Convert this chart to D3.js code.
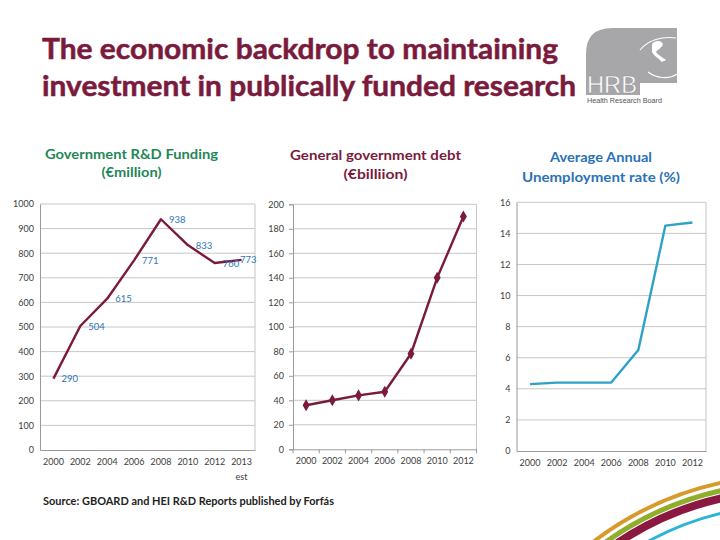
<!DOCTYPE html>
<html>
<head>
<meta charset="utf-8">
<script src="https://cdn.jsdelivr.net/npm/d3@7/dist/d3.min.js"></script>
<style>
html,body{margin:0;padding:0;background:#fff;}
svg{display:block;font-family:Lato,"Open Sans",sans-serif;}
</style>
</head>
<body>
<svg id="c" width="720" height="540"></svg>
<script>
// ---- data ----
const rdYears = ["2000","2002","2004","2006","2008","2010","2012","2013"];
const rdValues = [290,504,615,771,938,833,760,773];
const rdTicks = [0,100,200,300,400,500,600,700,800,900,1000];

const debtYears = ["2000","2002","2004","2006","2008","2010","2012"];
const debtValues = [36,40,44,47,78,140,190];
const debtTicks = [0,20,40,60,80,100,120,140,160,180,200];

const unempYears = ["2000","2002","2004","2006","2008","2010","2012"];
const unempValues = [4.3,4.4,4.4,4.4,6.5,14.5,14.7];
const unempTicks = [0,2,4,6,8,10,12,14,16];

const svg = d3.select("#c");
const maroon = "#7a1a3c";
const gridC = "#c6c6c6";
const axisTxt = "#404040";

// ---- main title ----
const title = svg.append("g").attr("fill", maroon).attr("font-weight", 700).attr("font-size", 28)
  .attr("stroke", maroon).attr("stroke-width", 0.5);
title.append("text").attr("x", 42).attr("y", 58.5).attr("textLength", 516).attr("lengthAdjust","spacingAndGlyphs").text("The economic backdrop to maintaining");
title.append("text").attr("x", 42).attr("y", 96).attr("textLength", 534).attr("lengthAdjust","spacingAndGlyphs").text("investment in publically funded research");

// ---- HRB logo ----
const logo = svg.append("g");
logo.append("path")
  .attr("d","M586,54 Q586,28 612,28 L677,28 L677,83 L640,83 L640,95 L586,95 Z")
  .attr("fill","#a7a7a9");
logo.append("path")
  .attr("d","M640,50 C648,40 662,36 676,38 M648,72 C656,78 668,80 677,74")
  .attr("stroke","#fff").attr("stroke-width",1.2).attr("fill","none");
logo.append("path")
  .attr("d","M652,44 C655,40 661,40 663,44 C662,48 658,49 656,52 C659,56 664,58 666,60 L662,62 C658,58 654,56 652,52 Z")
  .attr("fill","#fff");
logo.append("text").attr("x",587).attr("y",93).attr("font-family","'Liberation Sans Narrow','Liberation Sans',sans-serif")
  .attr("font-size",24).attr("fill","#fff").attr("stroke","#8e8e90").attr("stroke-width",0.4)
  .attr("textLength",50).attr("lengthAdjust","spacingAndGlyphs").text("HRB");
logo.append("text").attr("x",587).attr("y",102.5).attr("font-family","'Liberation Sans Narrow','Liberation Sans',sans-serif")
  .attr("font-size",7).attr("fill","#555").attr("textLength",75).attr("lengthAdjust","spacingAndGlyphs").text("Health Research Board");

// ---- panel titles ----
function panelTitle(lines, cx, ys, color, lens){
  const g = svg.append("g").attr("fill", color).attr("font-weight",700).attr("font-size",14).attr("text-anchor","middle");
  lines.forEach((t,i)=>{
    g.append("text").attr("x",cx).attr("y",ys[i]).attr("textLength",lens[i]).attr("lengthAdjust","spacingAndGlyphs").text(t);
  });
}
panelTitle(["Government R&D Funding","(€million)"], 131.5, [159,177], "#1f8757", [173,60]);
panelTitle(["General government debt","(€billiion)"], 375.5, [160,179], maroon, [171,64]);
panelTitle(["Average Annual","Unemployment rate (%)"], 601, [162,182], "#2a72b8", [102,158]);

// ---- generic panel ----
function panel(opts){
  const {years, values, ticks, x0, x1, yTop, yBot, color, markers, labels, xTicks, yTickMarks, labelRight, xLabelY} = opts;
  const x = d3.scaleBand().domain(years).range([x0, x1]);
  const y = d3.scaleLinear().domain([ticks[0], ticks[ticks.length-1]]).range([yBot, yTop]);
  const g = svg.append("g");

  // gridlines
  g.append("g").selectAll("line").data(ticks.slice(1)).join("line")
    .attr("x1", x0).attr("x2", x1).attr("y1", d=>y(d)).attr("y2", d=>y(d))
    .attr("stroke", gridC).attr("stroke-width",1);
  // right border
  g.append("line").attr("x1",x1).attr("x2",x1).attr("y1",yTop).attr("y2",yBot).attr("stroke",gridC);

  // y axis
  const ya = d3.axisLeft(y).tickValues(ticks).tickFormat(d3.format("d"))
    .tickSize(yTickMarks ? 4 : 0).tickPadding(yTickMarks ? 5 : 6);
  const yg = g.append("g").attr("transform",`translate(${x0},0)`).call(ya);
  yg.select(".domain").attr("stroke","#9a9a9a");
  yg.selectAll(".tick line").attr("stroke","#9a9a9a");
  yg.selectAll("text").attr("font-size",9).attr("fill",axisTxt).attr("font-family","Lato,sans-serif");

  // x axis
  const xa = d3.axisBottom(x).tickSize(0).tickPadding(xLabelY);
  const xg = g.append("g").attr("transform",`translate(0,${yBot})`).call(xa);
  xg.select(".domain").attr("stroke","#9a9a9a");
  xg.selectAll("text").attr("font-size",9).attr("fill",axisTxt).attr("font-family","Lato,sans-serif");
  if (xTicks){
    xg.append("g").selectAll("line").data(years.concat(["__end"])).join("line")
      .attr("x1",(d,i)=> x0 + i*x.step()).attr("x2",(d,i)=> x0 + i*x.step())
      .attr("y1",0).attr("y2",4).attr("stroke","#9a9a9a");
  }

  const cx = d => x(d) + x.bandwidth()/2;
  const pts = years.map((yr,i)=>[cx(yr), y(values[i])]);
  g.append("path").attr("d", d3.line()(pts)).attr("fill","none")
    .attr("stroke",color).attr("stroke-width",2.4).attr("stroke-linejoin","round");

  if (markers){
    g.append("g").selectAll("path").data(pts).join("path")
      .attr("d", d3.symbol().type(d3.symbolDiamond).size(42))
      .attr("transform", d=>`translate(${d[0]},${d[1]})`)
      .attr("fill", color);
  }
  if (labels){
    g.append("g").selectAll("text").data(values).join("text")
      .attr("x",(d,i)=> Math.min(pts[i][0]+8, labelRight - 17))
      .attr("y",(d,i)=> pts[i][1]+3.5)
      .attr("font-size",9.5).attr("fill","#2e75b6").attr("font-family","Lato,sans-serif")
      .text(d=>d);
  }
  return {x, y, xg};
}

const p1 = panel({years: rdYears, values: rdValues, ticks: rdTicks, x0: 40, x1: 255, yTop: 204, yBot: 450,
  color: maroon, markers:false, labels:true, xTicks:false, yTickMarks:false, labelRight: 257, xLabelY: 9});
// "est" under 2013
p1.xg.append("text").attr("x", p1.x("2013") + p1.x.bandwidth()/2).attr("y", 30)
  .attr("text-anchor","middle").attr("font-size",9).attr("fill",axisTxt).attr("font-family","Lato,sans-serif").text("est");

panel({years: debtYears, values: debtValues, ticks: debtTicks, x0: 293, x1: 476.5, yTop: 204.3, yBot: 449.3,
  color: maroon, markers:true, labels:false, xTicks:true, yTickMarks:true, xLabelY: 8});

panel({years: unempYears, values: unempValues, ticks: unempTicks, x0: 516.5, x1: 706, yTop: 202.3, yBot: 451,
  color: "#2ea2c6", markers:false, labels:false, xTicks:false, yTickMarks:false, xLabelY: 9});

// ---- source ----
svg.append("text").attr("x",43).attr("y",505).attr("font-size",10.5).attr("font-weight",700).attr("fill","#222")
  .attr("textLength",291).attr("lengthAdjust","spacingAndGlyphs")
  .text("Source: GBOARD and HEI R&D Reports published by Forfás");

// ---- decorative arcs ----
const arcs = [
  {cx:790, cy:800, r:324.6, c:"#d89a2a", w:4},
  {cx:790, cy:800, r:317, c:"#8fae2c", w:5},
  {cx:790, cy:800, r:309.5, c:"#8a1840", w:8},
  {cx:790, cy:800, r:295, c:"#2ab4d6", w:3}
];
const arcG = svg.append("g");
arcs.forEach(a=>{
  const yb = 545, xr = 725;
  const xs = a.cx - Math.sqrt(a.r*a.r - (a.cy-yb)*(a.cy-yb));
  const ye = a.cy - Math.sqrt(a.r*a.r - (a.cx-xr)*(a.cx-xr));
  arcG.append("path").attr("d",`M${xs},${yb} A${a.r},${a.r} 0 0 1 ${xr},${ye}`)
    .attr("fill","none").attr("stroke",a.c).attr("stroke-width",a.w);
});
</script>
</body>
</html>
